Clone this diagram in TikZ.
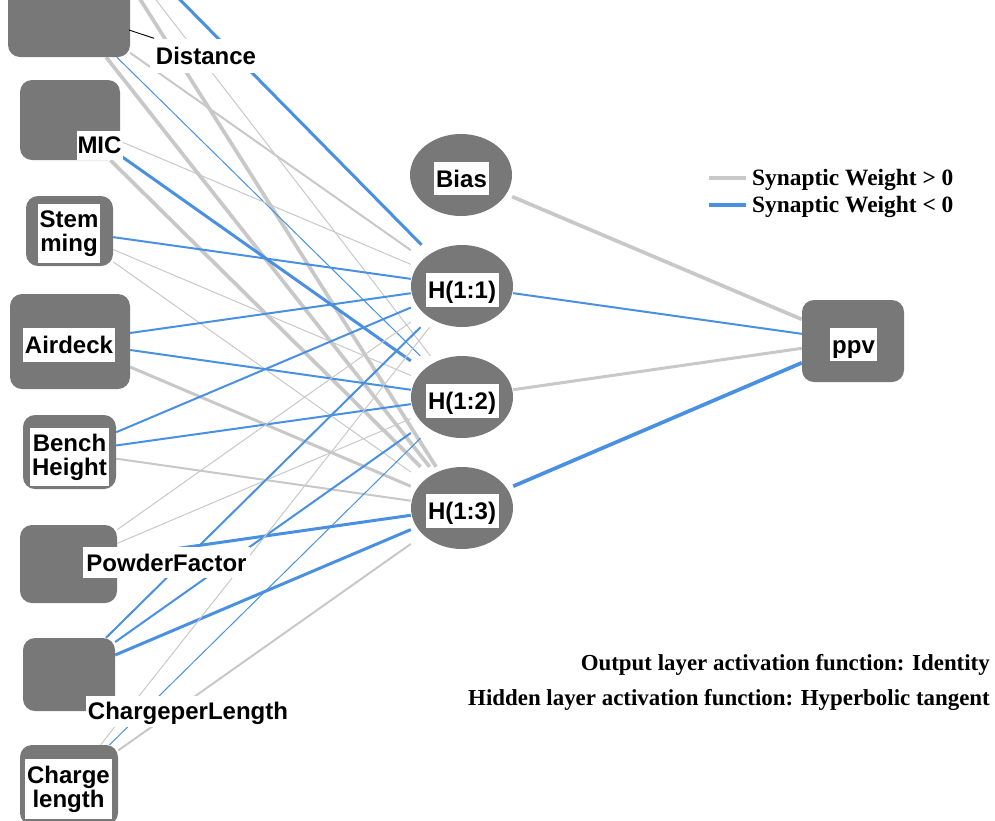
\documentclass[tikz,border=0pt]{standalone}
\usepackage{fontspec}
\newfontfamily\labfont{Liberation Sans}
\newfontfamily\serfont{Liberation Serif}
\usetikzlibrary{backgrounds}
\definecolor{nodegray}{RGB}{120,120,120}
\definecolor{posw}{RGB}{200,200,200}
\definecolor{negw}{RGB}{74,144,226}
\begin{document}
\begin{tikzpicture}[x=1pt,y=-1pt,
  inbox/.style={fill=nodegray, rounded corners=12pt, inner sep=0pt},
  hid/.style={inner sep=0pt, minimum width=102pt, minimum height=82pt,
    path picture={\fill[nodegray] (path picture bounding box.center) ellipse [x radius=51pt, y radius=41pt];}},
  lab/.style={fill=white, inner sep=0pt, text=black, font=\labfont\bfseries\fontsize{24}{24}\selectfont},
  oneline/.style={text height=17.5pt, text depth=0pt},
  twoline/.style={align=center},
  posline/.style={draw=posw},
  negline/.style={draw=negw},
  lwa/.style={line width=1pt},
  lwb/.style={line width=2pt},
  lwc/.style={line width=3pt},
  lwd/.style={line width=3.7pt},
  legtext/.style={anchor=base west, inner sep=0pt, font=\serfont\bfseries\fontsize{23.4}{26}\selectfont},
  foot/.style={anchor=base east, inner sep=0pt, font=\serfont\bfseries\fontsize{22.9}{26}\selectfont}
]
\useasboundingbox (0,0) rectangle (995,820);
\clip (0,0) rectangle (995,820);

% input layer
\coordinate (s1) at (69,-113);
\node[inbox, minimum width=122pt, minimum height=94pt] (dist) at (69,10) {};
\node[inbox, minimum width=100pt, minimum height=80pt] (mic) at (70,120) {};
\node[inbox, minimum width=87pt, minimum height=70pt] (stem) at (69.5,231) {};
\node[inbox, minimum width=120pt, minimum height=95pt] (air) at (70,341.5) {};
\node[inbox, minimum width=93pt, minimum height=74pt] (bench) at (69.5,452) {};
\node[inbox, minimum width=97pt, minimum height=78pt] (pf) at (68.5,564) {};
\node[inbox, minimum width=92pt, minimum height=73pt] (cpl) at (69,674.5) {};
\node[inbox, minimum width=98pt, minimum height=80pt] (cl) at (69,785) {};

% hidden layer
\node[hid] (bias) at (461,175) {};
\node[hid] (h1) at (462,286) {};
\node[hid] (h2) at (462,397) {};
\node[hid] (h3) at (462,508) {};

% output
\node[inbox, minimum width=102pt, minimum height=82pt] (ppv) at (853,341) {};

% connectors
\begin{pgfonlayer}{background}
\clip (0,0) rectangle (995,820);
\draw[negline,lwc] (s1) -- (h1);
\draw[posline,lwa] (s1) -- (h2);
\draw[posline,lwd] (s1) -- (h3);
\draw[posline,lwb] (dist) -- (h1);
\draw[negline,lwa] (dist) -- (h2);
\draw[posline,lwd] (dist) -- (h3);
\draw[posline,lwa] (mic) -- (h1);
\draw[negline,lwc] (mic) -- (h2);
\draw[posline,lwd] (mic) -- (h3);
\draw[negline,lwb] (stem) -- (h1);
\draw[posline,lwa] (stem) -- (h2);
\draw[posline,lwa] (stem) -- (h3);
\draw[negline,lwb] (air) -- (h1);
\draw[negline,lwb] (air) -- (h2);
\draw[posline,lwc] (air) -- (h3);
\draw[negline,lwb] (bench) -- (h1);
\draw[negline,lwb] (bench) -- (h2);
\draw[posline,lwb] (bench) -- (h3);
\draw[posline,lwa] (pf) -- (h1);
\draw[posline,lwa] (pf) -- (h2);
\draw[negline,lwc] (pf) -- (h3);
\draw[negline,lwb] (cpl) -- (h1);
\draw[negline,lwb] (cpl) -- (h2);
\draw[negline,lwc] (cpl) -- (h3);
\draw[posline,lwa] (cl) -- (h1);
\draw[negline,lwa] (cl) -- (h2);
\draw[posline,lwb] (cl) -- (h3);
\draw[posline,lwd] (bias) -- (ppv);
\draw[negline,lwb] (h1) -- (ppv);
\draw[posline,lwc] (h2) -- (ppv);
\draw[negline,lwd] (h3) -- (ppv);
\end{pgfonlayer}

% labels
\node[lab, oneline, minimum width=112pt, minimum height=34pt] (distlab) at (206,55.5) {Distance};
\coordinate (lead) at (129,30);
\draw[black, line width=0.9pt] (lead) -- (distlab);
\node[lab, oneline, minimum width=46pt, minimum height=29pt] (miclab) at (99.5,145) {MIC};
\node[lab, twoline, minimum width=62pt, minimum height=59pt] (stemlab) at (69,233.5) {Stem\\ming};
\node[lab, oneline, minimum width=92pt, minimum height=34pt] (airlab) at (69,345) {Airdeck};
\node[lab, twoline, minimum width=79pt, minimum height=58pt] (benchlab) at (69.5,457) {Bench\\Height};
\node[lab, oneline, minimum width=167pt, minimum height=31pt] (pflab) at (166.5,562.5) {PowderFactor};
\node[lab, oneline, minimum width=204pt, minimum height=31pt] (cpllab) at (188,711) {ChargeperLength};
\node[lab, twoline, minimum width=87pt, minimum height=60pt] (cllab) at (68.5,789) {Charge\\length};
\node[lab, oneline, minimum width=55pt, minimum height=33pt] (biaslab) at (461.5,178.5) {Bias};
\node[lab, oneline, minimum width=73pt, minimum height=34pt] (h1lab) at (462,289.5) {H(1:1)};
\node[lab, oneline, minimum width=73pt, minimum height=34pt] (h2lab) at (462,400.5) {H(1:2)};
\node[lab, oneline, minimum width=73pt, minimum height=34pt] (h3lab) at (462,511) {H(1:3)};
\node[lab, oneline, minimum width=47pt, minimum height=33pt] (ppvlab) at (853.5,344.5) {ppv};

% legend
\coordinate (lga) at (709,178);
\coordinate (lgb) at (746,178);
\coordinate (lgc) at (709,204.5);
\coordinate (lgd) at (746,204.5);
\draw[posline, line width=4pt] (lga) -- (lgb);
\draw[negline, line width=4pt] (lgc) -- (lgd);
\node[legtext] (lt1) at (752,185) {Synaptic Weight > 0};
\node[legtext] (lt2) at (752,212) {Synaptic Weight < 0};

% footnotes
\node[foot] (f1) at (990,670.5) {Output layer activation function: Identity};
\node[foot] (f2) at (990,705.5) {Hidden layer activation function: Hyperbolic tangent};
\end{tikzpicture}
\end{document}
